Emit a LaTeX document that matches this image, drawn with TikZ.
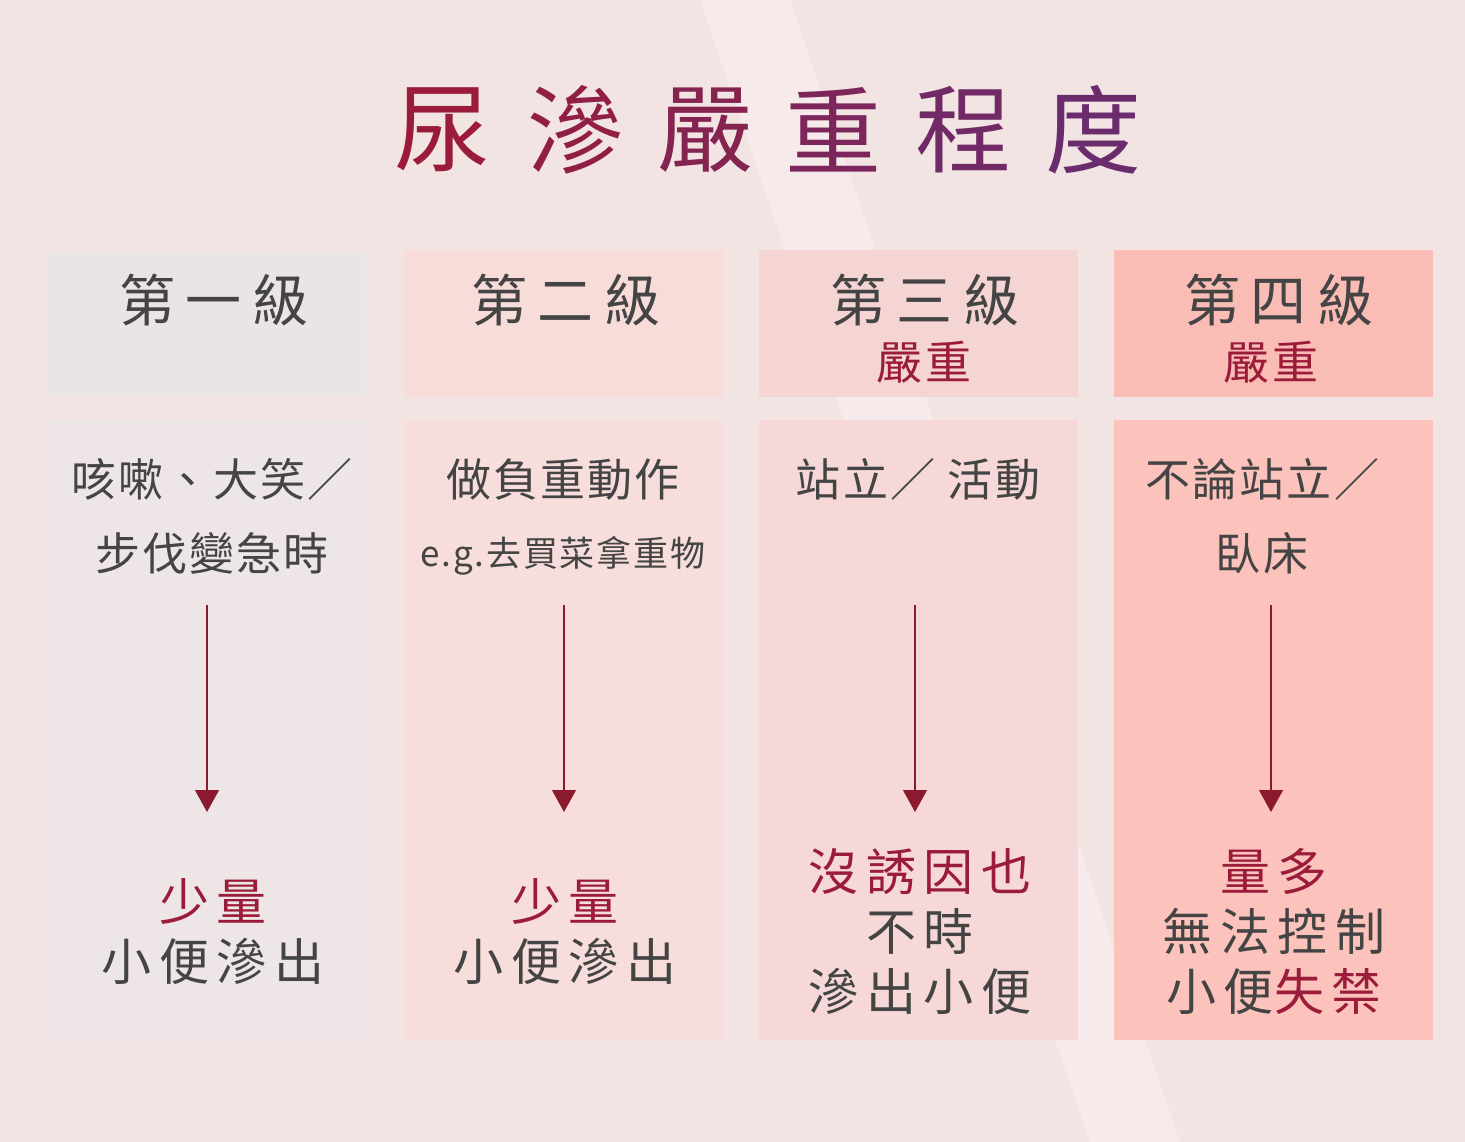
\documentclass[tikz,border=0pt]{standalone}
\usepackage{fontspec}
\usetikzlibrary{arrows.meta}
\newfontfamily\cjk{Noto Sans CJK TC}
\newfontfamily\cjkw[LetterSpace=18]{Noto Sans CJK TC}
\newfontfamily\cjkr[LetterSpace=15]{Noto Sans CJK TC}
\newfontfamily\cjkt[LetterSpace=5]{Noto Sans CJK TC}
\definecolor{bg}{HTML}{F3E4E4}
\definecolor{dred}{HTML}{9B1B3A}
\definecolor{purp}{HTML}{6B2C6E}
\definecolor{txt}{HTML}{444444}
\definecolor{arr}{HTML}{8B1A2E}
\definecolor{hA}{HTML}{EBE4E4}\definecolor{bA}{HTML}{EEE6E6}
\definecolor{hB}{HTML}{F8DCDA}\definecolor{bB}{HTML}{F7DEDC}
\definecolor{hC}{HTML}{F5D5D4}\definecolor{bC}{HTML}{F5D8D7}
\definecolor{hD}{HTML}{F9BDB5}\definecolor{bD}{HTML}{FBC3BB}
\tikzset{
 head/.style={font=\cjkw\fontsize{56}{60}\selectfont,text=txt},
 sev/.style={font=\cjkt\fontsize{46}{50}\selectfont,text=dred},
 body/.style={font=\cjkt\fontsize{45}{74}\selectfont,text=txt,align=center},
 res/.style={font=\cjkr\fontsize{50}{60}\selectfont,text=txt,align=center},
 ttl/.style={font=\cjk\fontsize{96}{100}\selectfont},
 flow/.style={draw=arr,line width=1.2pt,-{Triangle[width=24pt,length=22pt]}}
}
\begin{document}
\begin{tikzpicture}[x=1pt,y=-1pt]
\useasboundingbox (0,0) rectangle (1465,1142);
\fill[bg] (0,0) rectangle (1465,1142);
\fill[white,opacity=0.25] (700,0) -- (790,0) -- (1180,1142) -- (1090,1142) -- cycle;
\foreach \c/\x/\p in {尿/442/0,滲/575/20,嚴/705/45,重/833/65,程/963/85,度/1093/100}
  \node[ttl,text=purp!\p!dred] (t\x) at (\x,130) {\c};
\foreach \i/\x/\h/\b in {1/48/hA/bA,2/404/hB/bB,3/759/hC/bC,4/1114/hD/bD}{
  \fill[\h] (\x,250) rectangle ++(319,147);
  \fill[\b] (\x,420) rectangle ++(319,620);
}
\node[head] (h1) at (214,300) {第一級};
\node[head] (h2) at (566,300) {第二級};
\node[head] (h3) at (925,300) {第三級};
\node[head] (h4) at (1279,300) {第四級};
\node[sev] (s3) at (924,362) {嚴重};
\node[sev] (s4) at (1271,362) {嚴重};
\node[body,anchor=north] (b1) at (212,455) {咳嗽、大笑／\\ 步伐變急時};
\node[body,anchor=north] (b2) at (563,455) {做負重動作\\[-4pt]{\fontsize{35}{40}\selectfont e.g.去買菜拿重物}};
\node[body,anchor=north] (b3) at (918,455) {站立／ 活動};
\node[body,anchor=north] (b4) at (1262,455) {不論站立／\\ 臥床};
\coordinate (a1) at (207,605); \coordinate (e1) at (207,812);
\coordinate (a2) at (564,605); \coordinate (e2) at (564,812);
\coordinate (a3) at (915,605); \coordinate (e3) at (915,812);
\coordinate (a4) at (1271,605); \coordinate (e4) at (1271,812);
\foreach \k in {1,2,3,4} \draw[flow] (a\k) -- (e\k);
\node[res] (r1) at (213,932) {\textcolor{dred}{少量}\\小便滲出};
\node[res] (r2) at (565,932) {\textcolor{dred}{少量}\\小便滲出};
\node[res] (r3) at (920,932) {\textcolor{dred}{沒誘因也}\\不時\\滲出小便};
\node[res] (r4) at (1274,932) {\textcolor{dred}{量多}\\無法控制\\小便\textcolor{dred}{失禁}};
\end{tikzpicture}
\end{document}
